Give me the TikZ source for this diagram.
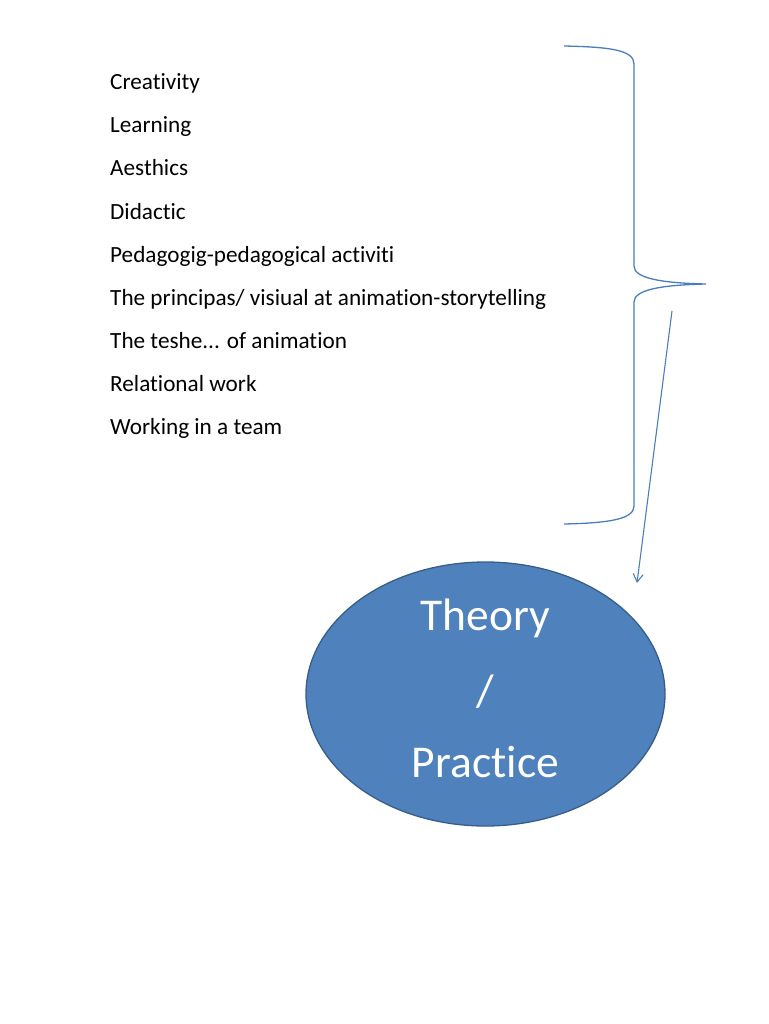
\documentclass[tikz,border=0pt]{standalone}
\usepackage{fontspec}
\setmainfont[Ligatures={NoCommon}]{Carlito}
\usetikzlibrary{arrows.meta,shapes.geometric}
\definecolor{lineblue}{HTML}{4A7EBB}
\definecolor{fillblue}{HTML}{4F81BD}
\definecolor{edgeblue}{HTML}{385D8A}
\tikzset{
  item/.style={anchor=base west, inner sep=0pt, font=\fontsize{23.2}{28}\selectfont},
  bigtxt/.style={anchor=base, inner sep=0pt, text=white, font=\fontsize{45.5}{54}\selectfont},
  bracel/.style={draw=lineblue, line width=1.3pt},
  arr/.style={draw=lineblue, line width=1.1pt, -{Straight Barb[length=8pt,width=10pt]}},
}
\begin{document}
\begin{tikzpicture}[x=1pt,y=-1pt]
\useasboundingbox (0,0) rectangle (768,1024);
% list
\node[item] (i1) at (110,90) {Creativity};
\node[item] (i2) at (110,133) {Learning};
\node[item] (i3) at (110,176) {Aesthics};
\node[item] (i4) at (110,219) {Didactic};
\node[item] (i5) at (110,262) {Pedagogig-pedagogical activiti};
\node[item] (i6) at (110,305) {The principas/ visiual at animation-storytelling};
\node[item] (i7) at (110,348) {The teshe... of animation};
\node[item] (i8) at (110,391) {Relational work};
\node[item] (i9) at (110,434) {Working in a team};
% brace
\coordinate (btop) at (564,46);
\coordinate (bbot) at (564,524);
\coordinate (btip) at (706,284);
\draw[bracel] (btop) .. controls (610,47) and (634,50) .. (634,64)
  -- (634,266) .. controls (634,278) and (660,283) .. (btip)
  .. controls (660,285) and (634,290) .. (634,302)
  -- (634,506) .. controls (634,519) and (610,523) .. (bbot);
% ellipse
\node[ellipse, draw=edgeblue, line width=1.3pt, fill=fillblue, minimum width=359pt, minimum height=264pt, inner sep=0pt] (ell) at (485.5,694) {};
\node[bigtxt] (t1) at (485.5,630) {Theory};
\node[bigtxt] (t2) at (485.5,706) {/};
\node[bigtxt] (t3) at (485.5,777) {Practice};
% arrow
\coordinate (astart) at (672,311);
\coordinate (aend) at (637,583);
\draw[arr] (astart) -- (aend);
\end{tikzpicture}
\end{document}
